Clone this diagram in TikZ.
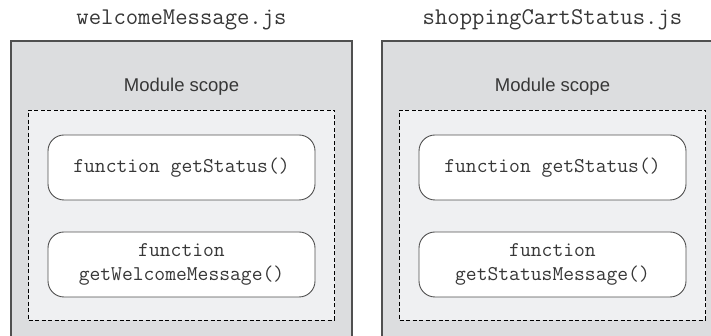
\documentclass[tikz,border=0pt]{standalone}
\usepackage{fontspec}
\setmainfont{Liberation Sans}
\usepackage{xcolor}
\usepackage{tikz}

\definecolor{grisTrait}{RGB}{80,80,80}
\definecolor{grisModule}{RGB}{220,221,223}
\definecolor{grisPortee}{RGB}{239,240,242}
\definecolor{grisTexte}{RGB}{55,55,55}

\begin{document}
\begin{tikzpicture}[x=1pt,y=1pt]
% Styles
\tikzstyle{fichier}=[font=\ttfamily\fontsize{24}{28}\selectfont,text=grisTexte]
\tikzstyle{module}=[fill=grisModule,draw=grisTrait,line width=1.4pt,minimum width=341pt,minimum height=320pt,inner sep=0pt]
\tikzstyle{portee}=[fill=grisPortee,draw=black,line width=0.8pt,dash pattern=on 4pt off 2.5pt,minimum width=306pt,minimum height=210pt,inner sep=0pt]
\tikzstyle{titre}=[font=\fontsize{18.5}{22}\selectfont,text=grisTexte]
\tikzstyle{fonction}=[fill=white,draw=grisTrait,line width=0.9pt,rounded corners=16pt,minimum width=267pt,minimum height=65pt,align=center,font=\ttfamily\fontsize{21}{24}\selectfont,text=grisTexte]
% Dimensions
\def\ColA{181.5}
\def\ColB{552.5}
\def\NiveauFichier{316}
\def\NiveauModule{135}
\def\NiveauTitre{249}
\def\NiveauPortee{121}
\def\NiveauFa{168.5}
\def\NiveauFb{71.5}
\useasboundingbox (0,0) rectangle (711,336);
\clip (0,0) rectangle (711,336);
% Fichier welcomeMessage.js
\node[fichier] (NomA) at (\ColA,\NiveauFichier) {welcomeMessage.js};
\node[module] (ModA) at (\ColA,\NiveauModule) {};
\node[titre] (TitreA) at (\ColA,\NiveauTitre) {Module scope};
\node[portee] (PorteeA) at (\ColA,\NiveauPortee) {};
\node[fonction] (Aa) at (\ColA,\NiveauFa) {function getStatus()};
\node[fonction] (Ab) at (\ColA,\NiveauFb) {function\\getWelcomeMessage()};
% Fichier shoppingCartStatus.js
\node[fichier] (NomB) at (\ColB,\NiveauFichier) {shoppingCartStatus.js};
\node[module] (ModB) at (\ColB,\NiveauModule) {};
\node[titre] (TitreB) at (\ColB,\NiveauTitre) {Module scope};
\node[portee] (PorteeB) at (\ColB,\NiveauPortee) {};
\node[fonction] (Ba) at (\ColB,\NiveauFa) {function getStatus()};
\node[fonction] (Bb) at (\ColB,\NiveauFb) {function\\getStatusMessage()};
\end{tikzpicture}
\end{document}
